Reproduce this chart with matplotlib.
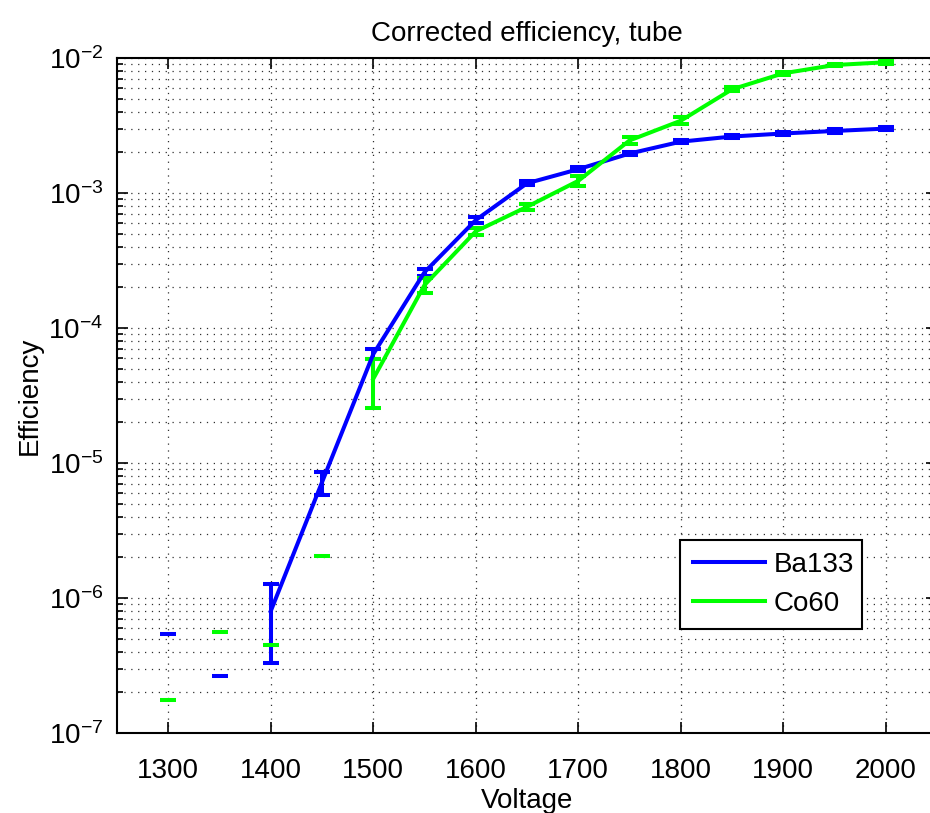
import numpy as np
import matplotlib
matplotlib.use("Agg")
import matplotlib.pyplot as plt
from matplotlib.lines import Line2D
from matplotlib.ticker import LogLocator, NullFormatter, FixedLocator

plt.rcParams['font.family'] = ['Liberation Sans', 'DejaVu Sans']

voltage = [1300, 1350, 1400, 1450, 1500, 1550, 1600, 1650, 1700, 1750,
           1800, 1850, 1900, 1950, 2000]

# Efficiencies (0 = no counts; only the upper error cap is visible on a log axis)
ba133_eff = [0, 0, 8.0e-7, 7.2e-6, 6.4e-5, 2.59e-4, 6.3e-4, 1.18e-3, 1.50e-3,
             1.96e-3, 2.40e-3, 2.62e-3, 2.76e-3, 2.88e-3, 3.00e-3]
ba133_err = [5.4e-7, 2.66e-7, 4.7e-7, 1.4e-6, 5.5e-6, 1.5e-5, 3.0e-5, 4.0e-5,
             5.0e-5, 6.0e-5, 7.0e-5, 8.0e-5, 8.0e-5, 8.0e-5, 8.0e-5]

co60_eff = [0, 0, 0, 0, 4.2e-5, 2.08e-4, 5.2e-4, 7.9e-4, 1.23e-3, 2.45e-3,
            3.43e-3, 5.86e-3, 7.7e-3, 8.87e-3, 9.3e-3]
co60_err = [1.76e-7, 5.57e-7, 4.46e-7, 2.06e-6, 1.66e-5, 2.5e-5, 3.5e-5,
            4.5e-5, 1.0e-4, 1.5e-4, 2.0e-4, 2.0e-4, 2.0e-4, 2.0e-4, 2.5e-4]

x_ticks = [1300, 1400, 1500, 1600, 1700, 1800, 1900, 2000]

BLUE = (0, 0, 1)
GREEN = (0, 1, 0)
FS = 20
LW = 2.9

fig = plt.figure(figsize=(9.3, 8.13), dpi=100)
ax = fig.add_axes([117 / 930, 80 / 813, 820 / 930, 675 / 813])
ax.set_yscale('log', nonpositive='mask')

ax.errorbar(voltage, ba133_eff, yerr=ba133_err, color=BLUE, lw=LW,
            capsize=6, capthick=LW, elinewidth=LW, zorder=3)
ax.errorbar(voltage, co60_eff, yerr=co60_err, color=GREEN, lw=LW,
            capsize=6, capthick=LW, elinewidth=LW, zorder=3)

ax.set_xlim(1250, 2050)
ax.set_ylim(1e-7, 1e-2)
ax.xaxis.set_major_locator(FixedLocator(x_ticks))
ax.yaxis.set_major_locator(LogLocator(base=10, numticks=10))
ax.yaxis.set_minor_locator(LogLocator(base=10, subs=np.arange(2, 10), numticks=20))
ax.yaxis.set_minor_formatter(NullFormatter())

grid_style = dict(color='#303030', linestyle=(0, (1, 4.5)), linewidth=0.9)
ax.grid(True, which='major', axis='both', **grid_style)
ax.grid(True, which='minor', axis='y', **grid_style)
ax.set_axisbelow(True)

ax.tick_params(which='both', direction='in', top=True, right=True,
               labelsize=FS, colors='black', width=1.2)
ax.tick_params(which='major', length=8)
ax.tick_params(which='minor', length=4)
ax.tick_params(axis='x', which='major', pad=18)
ax.tick_params(axis='y', which='major', pad=10)
for s in ax.spines.values():
    s.set_linewidth(1.5)

ax.set_xlabel('Voltage', fontsize=FS, labelpad=3)
ax.set_ylabel('Efficiency', fontsize=FS, labelpad=4)
ax.set_title('Corrected efficiency, tube', fontsize=FS, pad=12)

handles = [Line2D([], [], color=BLUE, lw=LW), Line2D([], [], color=GREEN, lw=LW)]
leg = ax.legend(handles, ['Ba133', 'Co60'], loc='lower left',
                bbox_to_anchor=(0.687, 0.154, 0.222, 0.127),
                mode='expand', borderaxespad=0, fancybox=False, fontsize=FS,
                handlelength=2.6, handletextpad=0.3, labelspacing=0.45,
                borderpad=0.45)
leg.get_frame().set_edgecolor('black')
leg.get_frame().set_linewidth(1.5)
leg.get_frame().set_alpha(1)

fig.savefig('out.png', dpi=100)
